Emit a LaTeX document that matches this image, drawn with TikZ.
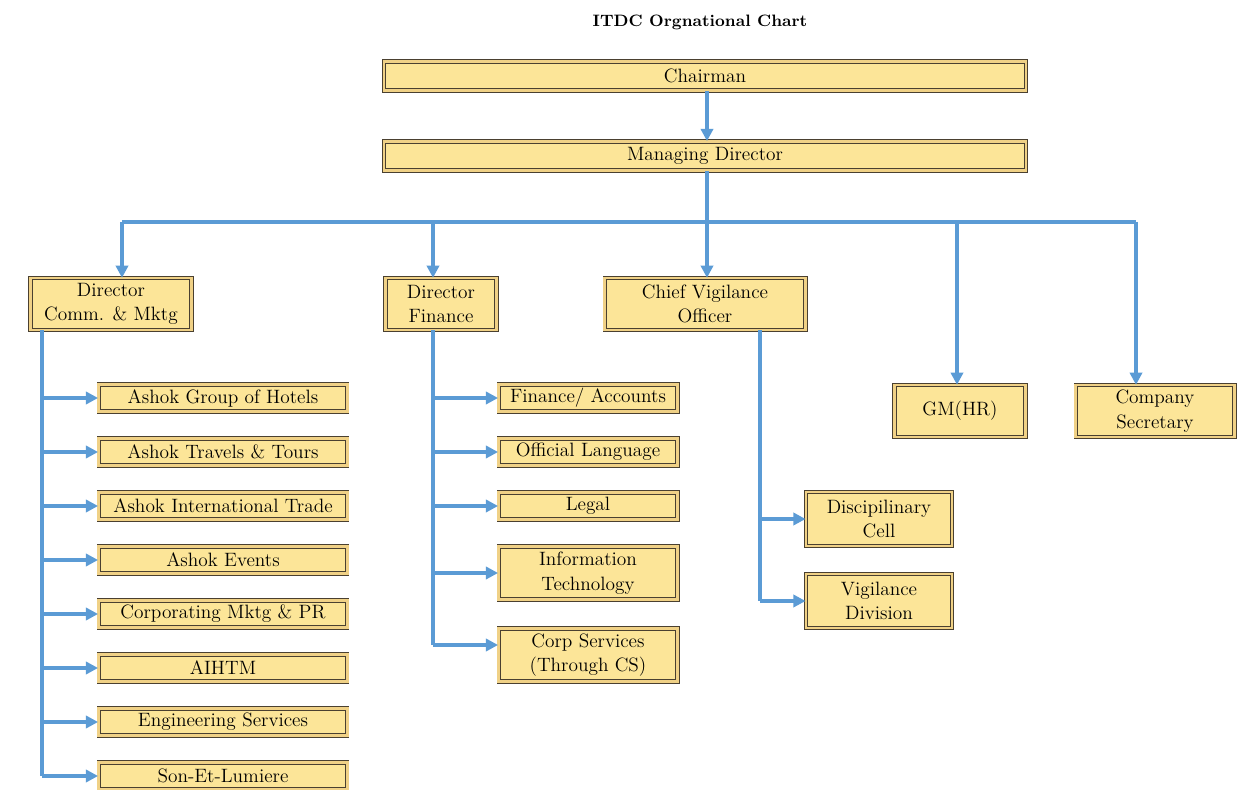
\documentclass[tikz,border=0pt]{standalone}
\usepackage{tikz}
\usetikzlibrary{calc,arrows.meta}
\definecolor{boxfill}{HTML}{FCE598}
\definecolor{boxedge}{HTML}{4A4030}
\definecolor{linkblue}{HTML}{5B9BD5}
\def\drawlink{\draw[color=linkblue, line width=2.3pt, -{Triangle[width=7pt,length=7pt]}]}
\def\drawspine{\draw[color=linkblue, line width=2.3pt]}
\def\orgnode{\node[orgbox]}
\tikzset{
  orgbox/.style={draw=boxedge, line width=0.5pt, double=boxfill!80!brown, double distance=1.3pt,
    fill=boxfill, align=center, inner sep=1pt, font=\fontsize{11}{14}\selectfont},
  topbox/.style={minimum width=12.85cm, minimum height=0.58cm},
  dirbox/.style={minimum height=1.03cm},
  cmbox/.style={minimum width=4.98cm, minimum height=0.54cm},
  finbox/.style={minimum width=3.58cm},
  vigbox/.style={minimum width=2.92cm, minimum height=1.08cm}
}

\begin{document}
\begin{tikzpicture}[x=0.02cm,y=-0.02cm]
\useasboundingbox (0,0) rectangle (1242,790);
\node[font=\fontsize{9.4}{11}\selectfont\bfseries] (title) at (700,22) {ITDC Orgnational Chart};

% top of the chart
\orgnode[topbox] (chair) at (705,76) {Chairman};
\orgnode[topbox] (md) at (705,156) {Managing Director};
\drawlink (chair.south -| 707,0) -- (md.north -| 707,0);

% the directors
\orgnode[dirbox, minimum width=3.22cm] (dcm) at (111,304) {Director\\Comm. \& Mktg};
\orgnode[dirbox, minimum width=2.22cm] (dfin) at (441,304) {Director\\Finance};
\orgnode[dirbox, minimum width=4.02cm] (cvo) at (705,304) {Chief Vigilance\\Officer};
\orgnode[dirbox, minimum width=2.62cm] (gmhr) at (960,411) {GM(HR)};
\orgnode[dirbox, minimum width=3.18cm] (cs) at (1155,411) {Company\\Secretary};

% the bus under the managing director
\coordinate (mdfoot) at (md.south -| 707,0);
\coordinate (busleft) at (122,222);
\coordinate (busright) at (1136,222);
\drawspine (mdfoot) -- (mdfoot |- busleft);
\drawspine (busleft) -- (busright);
\drawlink (busleft) -- (busleft |- dcm.north);
\drawlink (busleft -| 433,0) -- (dfin.north -| 433,0);
\drawlink (busleft -| 707,0) -- (cvo.north -| 707,0);
\drawlink (busleft -| 957,0) -- (gmhr.north -| 957,0);
\drawlink (busright) -- (busright |- cs.north);

% ---------- Comm. & Mktg column
\orgnode[cmbox] (hotels) at (223,398) {Ashok Group of Hotels};
\orgnode[cmbox] (travels) at (223,452) {Ashok Travels \& Tours};
\orgnode[cmbox] (trade) at (223,506) {Ashok International Trade};
\orgnode[cmbox] (events) at (223,560) {Ashok Events};
\orgnode[cmbox] (corpmktg) at (223,614) {Corporating Mktg \& PR};
\orgnode[cmbox] (aihtm) at (223,668) {AIHTM};
\orgnode[cmbox] (engg) at (223,722) {Engineering Services};
\orgnode[cmbox] (sonet) at (223,776) {Son-Et-Lumiere};
\coordinate (cmspine) at (dcm.south -| 42,0);
\drawspine (cmspine) -- (cmspine |- sonet.west);
\foreach \n in {hotels,travels,trade,events,corpmktg,aihtm,engg,sonet}
  \drawlink (cmspine |- \n.west) -- (\n.west);

% ---------- Finance column
\orgnode[cmbox, finbox] (accounts) at (588,398) {Finance/ Accounts};
\orgnode[cmbox, finbox] (lang) at (588,452) {Official Language};
\orgnode[cmbox, finbox] (legal) at (588,506) {Legal};
\orgnode[finbox, minimum height=1.06cm] (infotech) at (588,573) {Information\\Technology};
\orgnode[finbox, minimum height=1.06cm] (corpserv) at (588,655) {Corp Services\\(Through CS)};
\coordinate (finspine) at (dfin.south -| 433,0);
\drawspine (finspine) -- (finspine |- 0,645);
\foreach \n in {accounts,lang,legal,infotech}
  \drawlink (finspine |- \n.west) -- (\n.west);
\drawlink (finspine |- 0,645) -- (corpserv.west |- 0,645);

% ---------- Vigilance column
\orgnode[vigbox] (discip) at (879,519) {Discipilinary\\Cell};
\orgnode[vigbox] (vigdiv) at (879,601) {Vigilance\\Division};
\coordinate (vigspine) at (cvo.south -| 760,0);
\drawspine (vigspine) -- (vigspine |- vigdiv.west);
\foreach \n in {discip,vigdiv}
  \drawlink (vigspine |- \n.west) -- (\n.west);
\end{tikzpicture}
\end{document}
